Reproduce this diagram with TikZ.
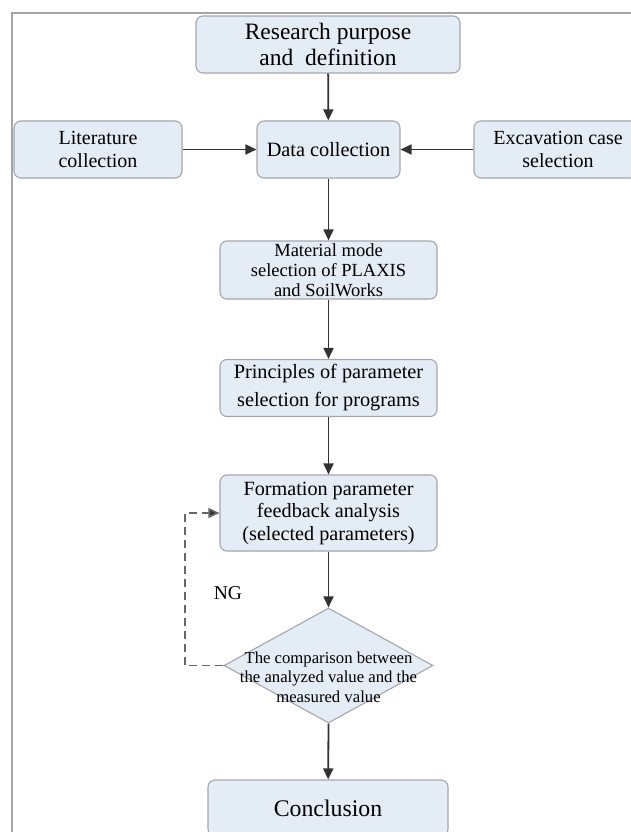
\documentclass[tikz,border=0pt]{standalone}
\usepackage{fontspec}
\setmainfont{Liberation Serif}
\usetikzlibrary{shapes.geometric,arrows.meta}
\definecolor{boxfill}{HTML}{E4ECF6}
\definecolor{boxline}{HTML}{A3A7AC}
\definecolor{arrline}{HTML}{333333}
\tikzset{
  pbox/.style={draw=boxline, fill=boxfill, line width=1.1pt, rounded corners=7pt,
    align=center, inner sep=0pt, text=black},
  pdia/.style={draw=boxline, fill=boxfill, line width=1.1pt, shape=diamond,
    inner sep=0pt, minimum width=209pt, minimum height=115pt, aspect=1.8},
  parr/.style={draw=arrline, line width=1.8pt, -{Triangle[length=11pt,width=10pt]}},
  pdash/.style={draw=gray!80!black, line width=1.6pt, dash pattern=on 8pt off 5pt,
    -{Triangle[length=11pt,width=10pt,fill=arrline]}},
}
\begin{document}
\begin{tikzpicture}[x=1pt,y=-1pt]
\useasboundingbox (0,0) rectangle (631,832);
\clip (0,0) rectangle (631,832);
\fill[white] (0,0) rectangle (631,832);
\draw[gray!70, line width=1.2pt] (12,13) rectangle (700,900);

\node[pbox, minimum width=264pt, minimum height=57pt, font=\fontsize{23.5}{26}\selectfont]
  (res) at (328,44.5) {Research purpose\\and\ \ definition};
\node[pbox, minimum width=168pt, minimum height=57pt, font=\fontsize{20}{23}\selectfont]
  (lit) at (98,149.5) {Literature\\collection};
\node[pbox, minimum width=143pt, minimum height=57pt, font=\fontsize{20.3}{23}\selectfont]
  (data) at (328.5,149.5) {Data collection};
\node[pbox, minimum width=168pt, minimum height=57pt, font=\fontsize{20}{23}\selectfont]
  (exc) at (558,149.5) {Excavation case\\selection};
\node[pbox, minimum width=217pt, minimum height=58pt, font=\fontsize{18.5}{20}\selectfont]
  (mat) at (328.5,270) {Material mode\\selection of PLAXIS\\and SoilWorks};
\node[pbox, minimum width=217pt, minimum height=57pt, font=\fontsize{20.3}{28}\selectfont]
  (prin) at (328.5,388) {Principles of parameter\\selection for programs};
\node[pbox, minimum width=217pt, minimum height=76pt, font=\fontsize{20.2}{22.5}\selectfont]
  (form) at (328.5,513) {Formation parameter\\feedback analysis\\(selected parameters)};
\node[pdia] (dia) at (328.5,665.5) {};
\node[align=center, inner sep=0pt, font=\fontsize{16.7}{19.5}\selectfont]
  (diatext) at (328.5,677) {The comparison between\\the analyzed value and the\\measured value};
\node[pbox, minimum width=240pt, minimum height=56pt, font=\fontsize{23.8}{26}\selectfont]
  (conc) at (328,808) {Conclusion};
\node[inner sep=0pt, font=\fontsize{19.6}{22}\selectfont] (ng) at (228,593) {NG};

\draw[parr] (res) -- (data);
\draw[parr] (lit) -- (data);
\draw[parr] (exc) -- (data);
\draw[parr] (data) -- (mat);
\draw[parr] (mat) -- (prin);
\draw[parr] (prin) -- (form);
\draw[parr] (form) -- (dia.north);
\draw[parr] (dia.south) -- (conc);
\coordinate (fb) at (185,665.5);
\draw[pdash] (dia.west) -- (fb) |- (form.west);
\end{tikzpicture}
\end{document}
